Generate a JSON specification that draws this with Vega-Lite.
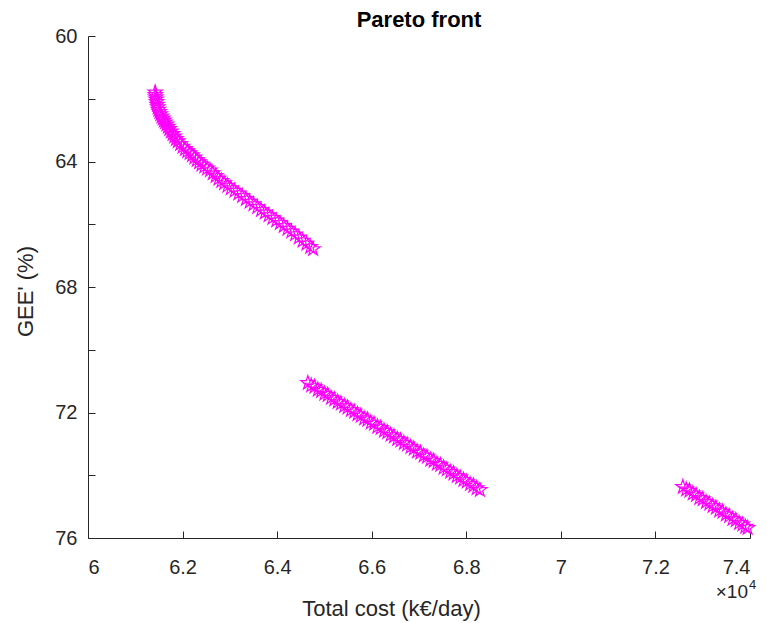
{
  "$schema": "https://vega.github.io/schema/vega-lite/v6.json",
  "width": 662,
  "height": 502,
  "autosize": {"type": "none"},
  "padding": {"left": 88, "top": 36, "right": 17, "bottom": 85},
  "background": "white",
  "config": {
    "view": {"stroke": null},
    "font": "Liberation Sans",
    "axis": {
      "grid": false,
      "domainColor": "#262626",
      "tickColor": "#262626",
      "labelColor": "#262626",
      "titleColor": "#262626",
      "labelFont": "Liberation Sans",
      "titleFont": "Liberation Sans",
      "labelFontSize": 20,
      "titleFontSize": 22,
      "titleFontWeight": "normal",
      "tickSize": -7
    }
  },
  "title": {"text": "Pareto front", "fontSize": 22, "fontWeight": "bold", "color": "#000000", "offset": 4, "dy": 10, "frame": "group", "font": "Liberation Sans"},
  "datasets": {
    "pts": [
      {"cost": 61420, "gee": 61.80}, {"cost": 61425, "gee": 61.88}, {"cost": 61432, "gee": 61.95}, {"cost": 61440, "gee": 62.02},
      {"cost": 61450, "gee": 62.10}, {"cost": 61462, "gee": 62.19}, {"cost": 61475, "gee": 62.27}, {"cost": 61490, "gee": 62.35},
      {"cost": 61510, "gee": 62.42}, {"cost": 61530, "gee": 62.49}, {"cost": 61555, "gee": 62.56}, {"cost": 61580, "gee": 62.63},
      {"cost": 61605, "gee": 62.69}, {"cost": 61630, "gee": 62.75}, {"cost": 61660, "gee": 62.82}, {"cost": 61690, "gee": 62.89},
      {"cost": 61720, "gee": 62.96}, {"cost": 61755, "gee": 63.04}, {"cost": 61790, "gee": 63.12}, {"cost": 61825, "gee": 63.20},
      {"cost": 61860, "gee": 63.28}, {"cost": 61900, "gee": 63.35}, {"cost": 61950, "gee": 63.44}, {"cost": 62000, "gee": 63.53},
      {"cost": 62050, "gee": 63.60}, {"cost": 62100, "gee": 63.67}, {"cost": 62150, "gee": 63.73}, {"cost": 62200, "gee": 63.80},
      {"cost": 62250, "gee": 63.87}, {"cost": 62300, "gee": 63.95}, {"cost": 62350, "gee": 64.02}, {"cost": 62400, "gee": 64.09},
      {"cost": 62460, "gee": 64.16}, {"cost": 62520, "gee": 64.22}, {"cost": 62580, "gee": 64.28}, {"cost": 62640, "gee": 64.37},
      {"cost": 62700, "gee": 64.46}, {"cost": 62760, "gee": 64.55}, {"cost": 62820, "gee": 64.62}, {"cost": 62880, "gee": 64.69},
      {"cost": 62950, "gee": 64.77}, {"cost": 63020, "gee": 64.85}, {"cost": 63100, "gee": 64.93}, {"cost": 63180, "gee": 65.02},
      {"cost": 63260, "gee": 65.10}, {"cost": 63340, "gee": 65.19}, {"cost": 63420, "gee": 65.28}, {"cost": 63500, "gee": 65.36},
      {"cost": 63580, "gee": 65.45}, {"cost": 63660, "gee": 65.54}, {"cost": 63740, "gee": 65.62}, {"cost": 63820, "gee": 65.71},
      {"cost": 63900, "gee": 65.80}, {"cost": 63980, "gee": 65.88}, {"cost": 64060, "gee": 65.96}, {"cost": 64140, "gee": 66.05},
      {"cost": 64220, "gee": 66.14}, {"cost": 64300, "gee": 66.23}, {"cost": 64380, "gee": 66.32}, {"cost": 64460, "gee": 66.42},
      {"cost": 64540, "gee": 66.52}, {"cost": 64620, "gee": 66.62}, {"cost": 64700, "gee": 66.72}, {"cost": 64760, "gee": 66.79},

      {"cost": 64650, "gee": 71.06}, {"cost": 64720, "gee": 71.14}, {"cost": 64790, "gee": 71.18}, {"cost": 64860, "gee": 71.27},
      {"cost": 64930, "gee": 71.31}, {"cost": 65000, "gee": 71.40}, {"cost": 65070, "gee": 71.44}, {"cost": 65140, "gee": 71.53},
      {"cost": 65210, "gee": 71.58}, {"cost": 65280, "gee": 71.66}, {"cost": 65350, "gee": 71.71}, {"cost": 65420, "gee": 71.79},
      {"cost": 65490, "gee": 71.84}, {"cost": 65560, "gee": 71.92}, {"cost": 65630, "gee": 71.97}, {"cost": 65700, "gee": 72.05},
      {"cost": 65770, "gee": 72.10}, {"cost": 65840, "gee": 72.19}, {"cost": 65910, "gee": 72.23}, {"cost": 65980, "gee": 72.32},
      {"cost": 66050, "gee": 72.36}, {"cost": 66120, "gee": 72.45}, {"cost": 66190, "gee": 72.49}, {"cost": 66260, "gee": 72.58},
      {"cost": 66330, "gee": 72.63}, {"cost": 66400, "gee": 72.71}, {"cost": 66470, "gee": 72.76}, {"cost": 66540, "gee": 72.84},
      {"cost": 66610, "gee": 72.89}, {"cost": 66680, "gee": 72.97}, {"cost": 66750, "gee": 73.02}, {"cost": 66820, "gee": 73.10},
      {"cost": 66890, "gee": 73.15}, {"cost": 66960, "gee": 73.24}, {"cost": 67030, "gee": 73.28}, {"cost": 67100, "gee": 73.37},
      {"cost": 67170, "gee": 73.41}, {"cost": 67240, "gee": 73.50}, {"cost": 67310, "gee": 73.54}, {"cost": 67380, "gee": 73.63},
      {"cost": 67450, "gee": 73.67}, {"cost": 67520, "gee": 73.76}, {"cost": 67590, "gee": 73.81}, {"cost": 67660, "gee": 73.89},
      {"cost": 67730, "gee": 73.94}, {"cost": 67800, "gee": 74.02}, {"cost": 67870, "gee": 74.07}, {"cost": 67940, "gee": 74.15},
      {"cost": 68010, "gee": 74.20}, {"cost": 68080, "gee": 74.28}, {"cost": 68150, "gee": 74.33}, {"cost": 68220, "gee": 74.41},
      {"cost": 68288, "gee": 74.47},

      {"cost": 72580, "gee": 74.37}, {"cost": 72650, "gee": 74.45}, {"cost": 72720, "gee": 74.49}, {"cost": 72790, "gee": 74.58},
      {"cost": 72860, "gee": 74.63}, {"cost": 72930, "gee": 74.72}, {"cost": 73000, "gee": 74.76}, {"cost": 73070, "gee": 74.85},
      {"cost": 73140, "gee": 74.90}, {"cost": 73210, "gee": 74.98}, {"cost": 73280, "gee": 75.03}, {"cost": 73350, "gee": 75.12},
      {"cost": 73420, "gee": 75.16}, {"cost": 73490, "gee": 75.25}, {"cost": 73560, "gee": 75.30}, {"cost": 73630, "gee": 75.39},
      {"cost": 73700, "gee": 75.43}, {"cost": 73770, "gee": 75.52}, {"cost": 73840, "gee": 75.57}, {"cost": 73900, "gee": 75.64},
      {"cost": 73950, "gee": 75.68}
    ],
    "expo": [{"cost": 74000, "gee": 76, "base": "×10", "exp": "4"}]
  },
  "layer": [
    {
      "data": {"name": "pts"},
      "mark": {
        "type": "point",
        "shape": "M0,-1L0.225,-0.309L0.951,-0.309L0.363,0.118L0.588,0.809L0,0.382L-0.588,0.809L-0.363,0.118L-0.951,-0.309L-0.225,-0.309Z",
        "filled": false,
        "stroke": "#FF00FF",
        "strokeWidth": 1.2,
        "size": 220,
        "opacity": 1
      },
      "encoding": {
        "x": {
          "field": "cost", "type": "quantitative",
          "scale": {"domain": [60000, 74000], "nice": false, "zero": false},
          "axis": {
            "values": [60000, 62000, 64000, 66000, 68000, 70000, 72000, 74000],
            "labelExpr": "format(datum.value / 10000, '.1~f')",
            "labelPadding": 26,
            "title": "Total cost (k€/day)",
            "titleX": 303,
            "titleY": 70,
            "titleBaseline": "middle"
          }
        },
        "y": {
          "field": "gee", "type": "quantitative",
          "scale": {"domain": [60, 76], "nice": false, "zero": false, "reverse": true},
          "axis": {
            "values": [60, 62, 64, 66, 68, 70, 72, 74, 76],
            "labelExpr": "datum.value % 4 === 0 ? datum.label : ''",
            "labelPadding": 18,
            "title": "GEE' (%)",
            "titleX": -63,
            "titleY": 255,
            "titleBaseline": "middle"
          }
        }
      }
    },
    {
      "data": {"name": "expo"},
      "mark": {"type": "text", "align": "right", "baseline": "middle", "fontSize": 19, "color": "#262626", "font": "Liberation Sans", "dx": -2, "dy": 54},
      "encoding": {
        "x": {"field": "cost", "type": "quantitative"},
        "y": {"field": "gee", "type": "quantitative"},
        "text": {"field": "base"}
      }
    },
    {
      "data": {"name": "expo"},
      "mark": {"type": "text", "align": "left", "baseline": "middle", "fontSize": 13, "color": "#262626", "font": "Liberation Sans", "dx": -1, "dy": 47},
      "encoding": {
        "x": {"field": "cost", "type": "quantitative"},
        "y": {"field": "gee", "type": "quantitative"},
        "text": {"field": "exp"}
      }
    }
  ]
}
